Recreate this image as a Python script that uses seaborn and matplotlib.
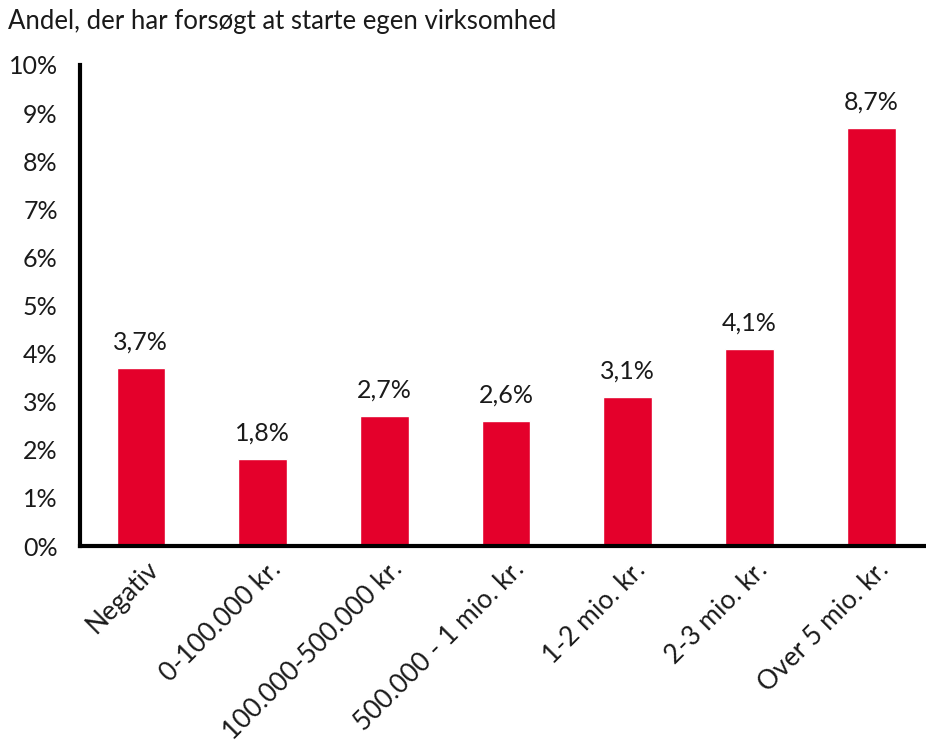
import matplotlib
matplotlib.use("Agg")
import matplotlib.pyplot as plt
import matplotlib.transforms as mtransforms
import seaborn as sns
import pandas as pd
from matplotlib.ticker import FuncFormatter

categories = ["Negativ", "0-100.000 kr.", "100.000-500.000 kr.", "500.000 - 1 mio. kr.",
              "1-2 mio. kr.", "2-3 mio. kr.", "Over 5 mio. kr."]
values = [3.7, 1.8, 2.7, 2.6, 3.1, 4.1, 8.7]
value_labels = ["3,7%", "1,8%", "2,7%", "2,6%", "3,1%", "4,1%", "8,7%"]
title = "Andel, der har forsøgt at starte egen virksomhed"

sns.set_theme(style="white")
plt.rcParams["font.family"] = ["Lato", "DejaVu Sans"]

df = pd.DataFrame({"cat": categories, "val": values})
fig = plt.figure(figsize=(9.26, 7.49), dpi=100)
ax = fig.add_axes([80/926, 1-546/749, (926-80)/926, (546-65)/749])
sns.barplot(data=df, x="cat", y="val", color="#E4002B", saturation=1, width=0.4, ax=ax)
for i, (v, lab) in enumerate(zip(values, value_labels)):
    ax.text(i, v + 0.3, lab, ha="center", va="bottom", fontsize=18, color="#1a1a1a")
ax.set_ylim(0, 10)
ax.set_xlim(-0.5, 6.45)
ax.set_yticks(range(0, 11))
ax.yaxis.set_major_formatter(FuncFormatter(lambda v, p: f"{int(v)}%"))
ax.tick_params(axis="y", labelsize=18, pad=16, length=0, colors="#1a1a1a")
ax.tick_params(axis="x", labelsize=19, length=0, pad=14, colors="#1a1a1a")
offset = mtransforms.ScaledTranslation(14/100, 0, fig.dpi_scale_trans)
for lbl in ax.get_xticklabels():
    lbl.set_rotation(45)
    lbl.set_ha("right")
    lbl.set_va("center")
    lbl.set_rotation_mode("anchor")
    lbl.set_transform(lbl.get_transform() + offset)
ax.set_xlabel("")
ax.set_ylabel("")
for s in ["top", "right"]:
    ax.spines[s].set_visible(False)
for s in ["left", "bottom"]:
    ax.spines[s].set_color("black")
    ax.spines[s].set_linewidth(3)
fig.text(8/926, 1-22/749, title, fontsize=18.5, ha="left", va="center", color="#1a1a1a")
fig.savefig("out.png", dpi=100)
